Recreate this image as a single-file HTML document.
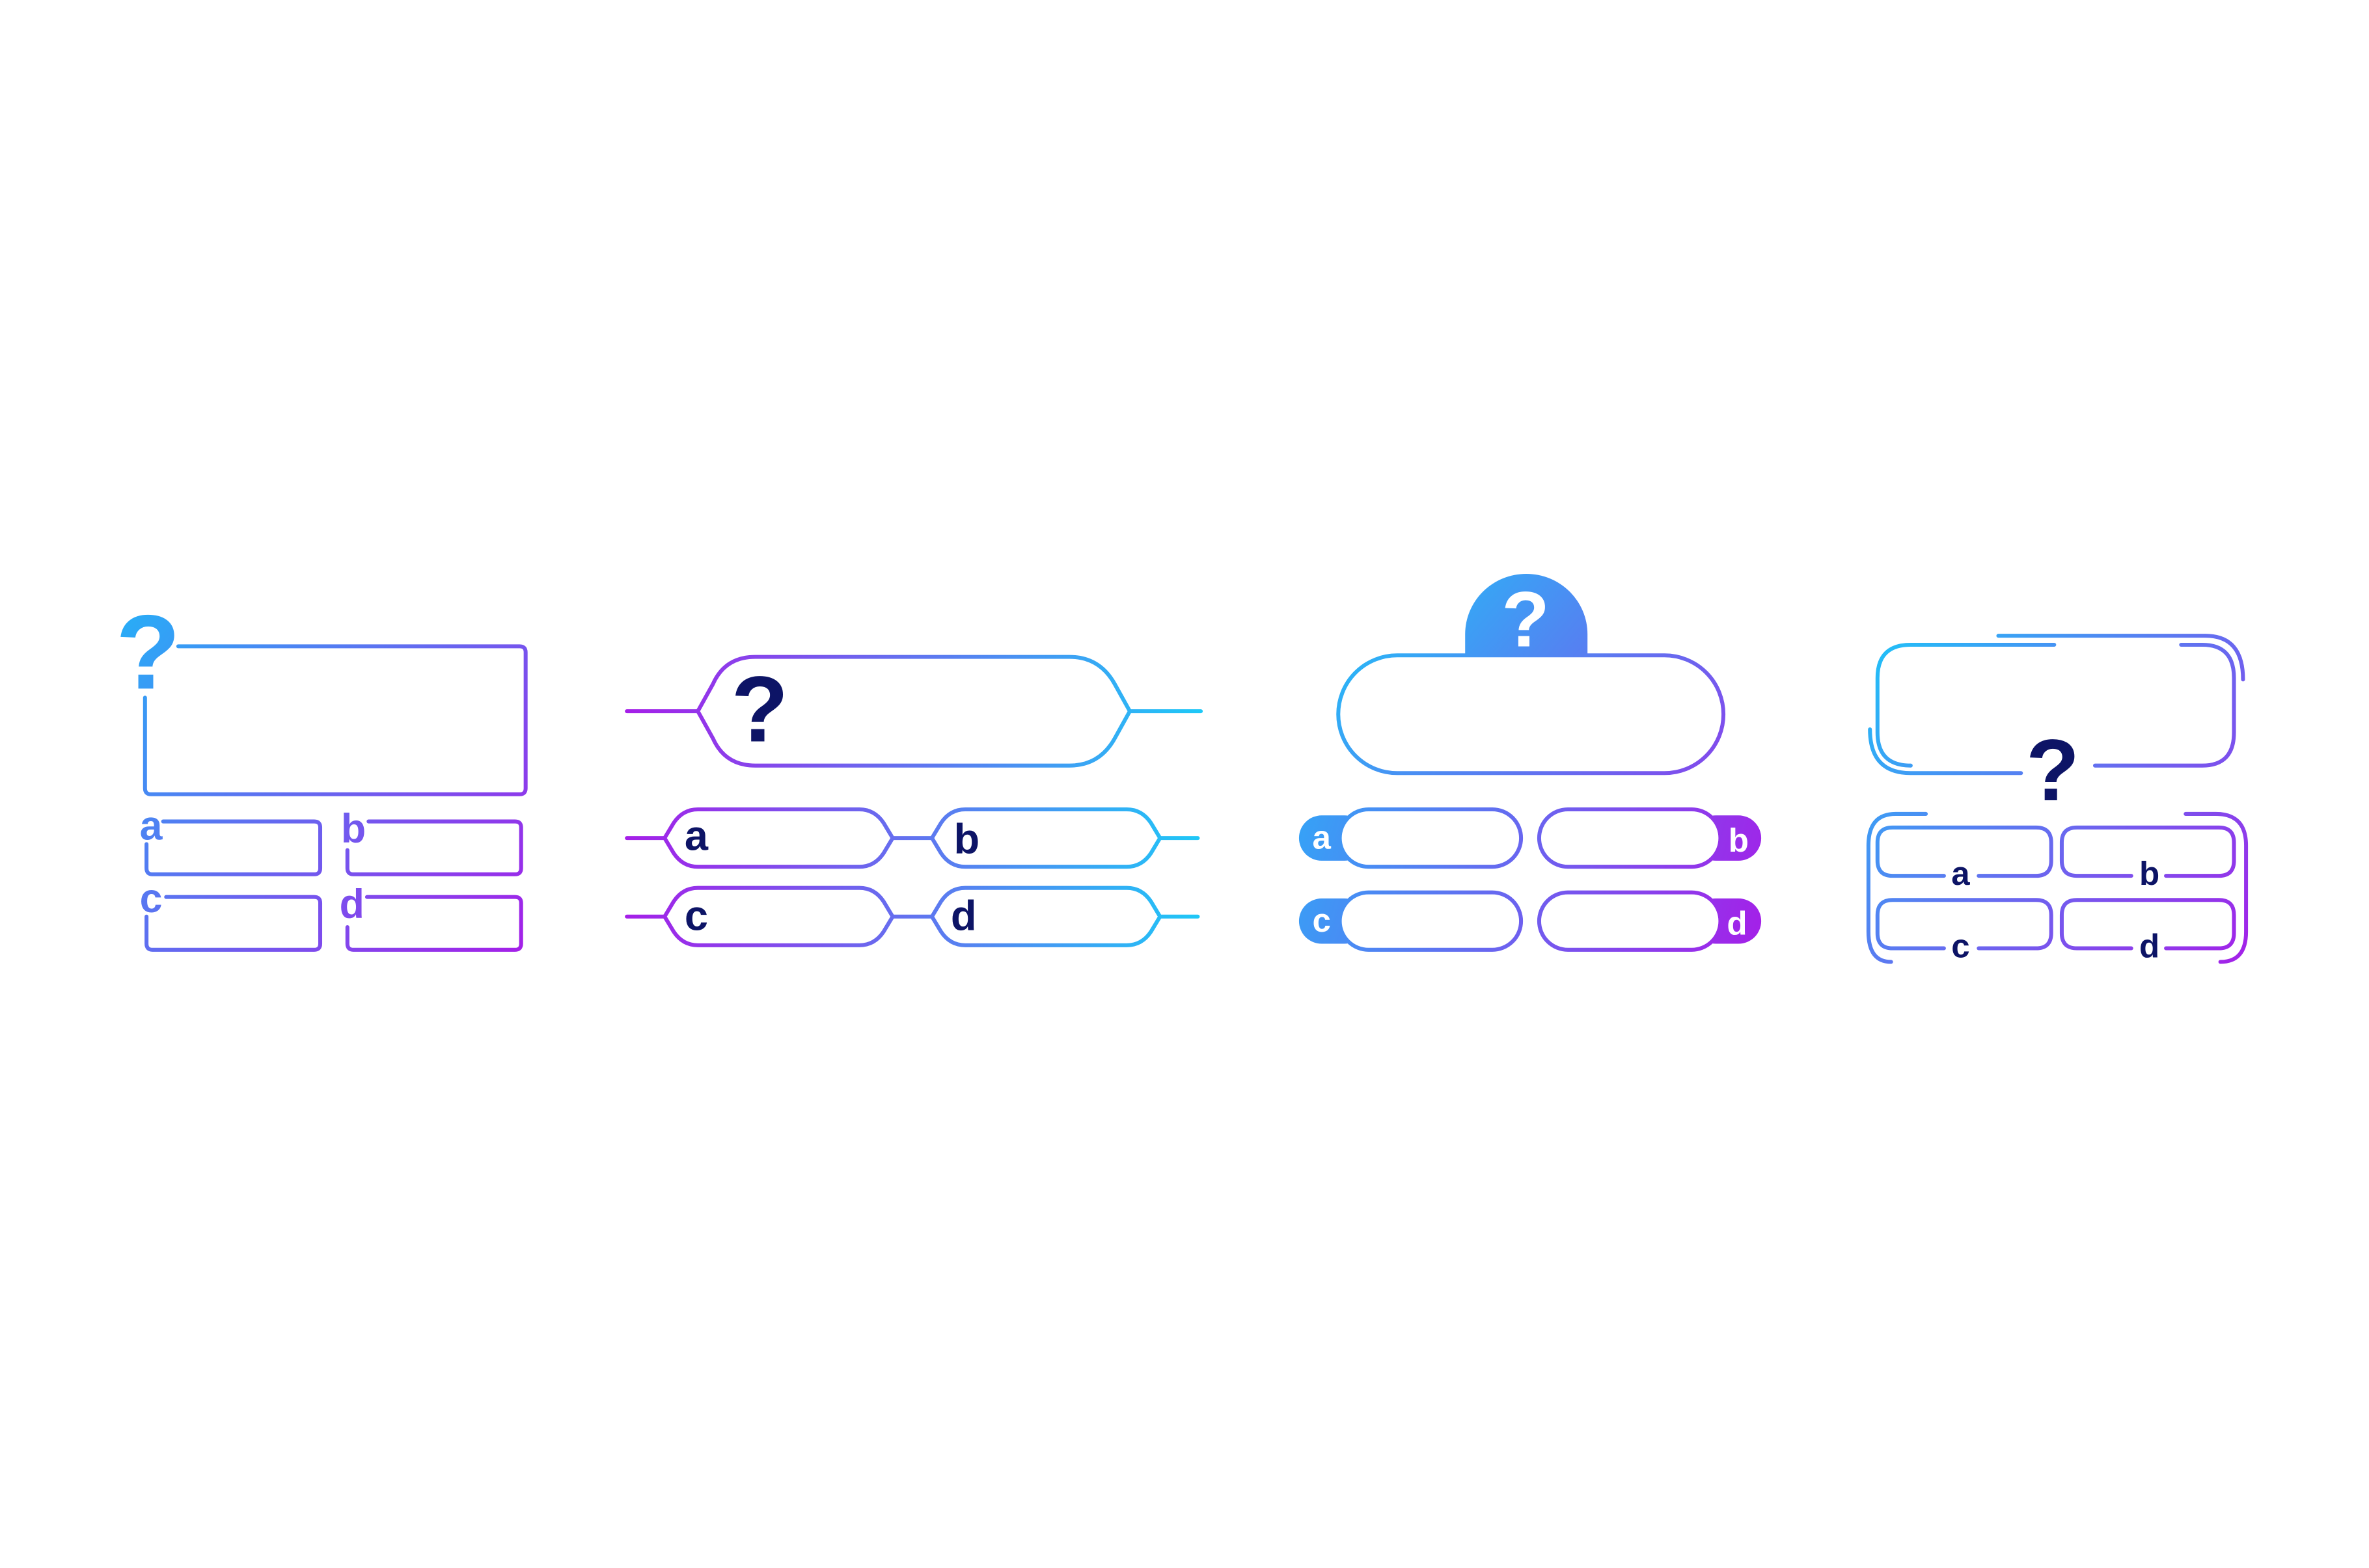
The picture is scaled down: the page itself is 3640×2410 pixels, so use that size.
<!DOCTYPE html>
<html><head><meta charset="utf-8"><style>html,body{margin:0;padding:0;background:#fff}svg{display:block}</style></head>
<body>
<svg width="3640" height="2410" viewBox="0 0 1568.4 1038.4" xmlns="http://www.w3.org/2000/svg">
<defs>
<linearGradient id="g1" gradientUnits="userSpaceOnUse" x1="80" y1="405" x2="348" y2="630"><stop offset="0" stop-color="#27aef7"/><stop offset="1" stop-color="#a51fe8"/></linearGradient>
<linearGradient id="g2" gradientUnits="userSpaceOnUse" x1="415" y1="0" x2="795" y2="0"><stop offset="0" stop-color="#a51fe8"/><stop offset="1" stop-color="#1ec8f7"/></linearGradient>
<linearGradient id="g3" gradientUnits="userSpaceOnUse" x1="880" y1="400" x2="1150" y2="630"><stop offset="0" stop-color="#1ec4f8"/><stop offset="1" stop-color="#a51fe8"/></linearGradient>
<linearGradient id="g3b" gradientUnits="userSpaceOnUse" x1="860" y1="536" x2="1166" y2="629"><stop offset="0" stop-color="#35a3f6"/><stop offset="1" stop-color="#a51fe8"/></linearGradient>
<linearGradient id="g4" gradientUnits="userSpaceOnUse" x1="1237" y1="420" x2="1487" y2="640"><stop offset="0" stop-color="#1ec4f8"/><stop offset="1" stop-color="#a51fe8"/></linearGradient>
</defs>
<g fill="none" stroke-width="2.6" stroke-linecap="round" stroke-linejoin="round">
<g stroke="url(#g1)">
<path d="M118,428 H344 Q348,428 348,432 V522 Q348,526 344,526 H100 Q96,526 96,522 V462"/>
<path d="M108,544 H208 Q212,544 212,548 V575 Q212,579 208,579 H101 Q97,579 97,575 V559"/>
<path d="M244,544 H341 Q345,544 345,548 V575 Q345,579 341,579 H234 Q230,579 230,575 V563"/>
<path d="M110,594 H208 Q212,594 212,598 V625 Q212,629 208,629 H101 Q97,629 97,625 V607"/>
<path d="M243,594 H341 Q345,594 345,598 V625 Q345,629 341,629 H234 Q230,629 230,625 V614"/>
</g>
<g stroke="url(#g2)">
<path d="M500,435 H708 Q728,435 738,453 L748,471 L738,489 Q728,507 708,507 H500 Q480,507 472,489 L462,471 L472,453 Q480,435 500,435Z"/>
<path d="M415,471 H462 M748,471 H795"/>
<path d="M462,536 H569 Q579,536 585,545 L591,555 L585,565 Q579,574 569,574 H462 Q452,574 446,565 L440,555 L446,545 Q452,536 462,536Z"/>
<path d="M639,536 H746 Q756,536 762,545 L768,555 L762,565 Q756,574 746,574 H639 Q629,574 623,565 L617,555 L623,545 Q629,536 639,536Z"/>
<path d="M462,588 H569 Q579,588 585,597 L591,607 L585,617 Q579,626 569,626 H462 Q452,626 446,617 L440,607 L446,597 Q452,588 462,588Z"/>
<path d="M639,588 H746 Q756,588 762,597 L768,607 L762,617 Q756,626 746,626 H639 Q629,626 623,617 L617,607 L623,597 Q629,588 639,588Z"/>
<path d="M415,555 H440 M591,555 H617 M768,555 H793 M415,607 H440 M591,607 H617 M768,607 H793"/>
</g>
<path d="M970,435 V420 A40.5,40 0 0 1 1051,420 V435Z" fill="url(#g3)" stroke="none"/>
<rect x="886" y="434" width="255" height="78" rx="39" stroke="url(#g3)" fill="#fff"/>
<g fill="url(#g3b)" stroke="none">
<rect x="860" y="540" width="45" height="30" rx="15"/>
<rect x="1121" y="540" width="45" height="30" rx="15"/>
<rect x="860" y="595" width="45" height="30" rx="15"/>
<rect x="1121" y="595" width="45" height="30" rx="15"/>
</g>
<g stroke="url(#g3b)" fill="#fff">
<rect x="887" y="536" width="120" height="38" rx="19"/>
<rect x="1019" y="536" width="120" height="38" rx="19"/>
<rect x="887" y="591" width="120" height="38" rx="19"/>
<rect x="1019" y="591" width="120" height="38" rx="19"/>
</g>
<g stroke="url(#g4)">
<path d="M1360,427 H1265 Q1243,427 1243,449 V485 Q1243,507 1265,507"/>
<path d="M1238,483 Q1238,512 1265,512 H1338"/>
<path d="M1387,507 H1458 Q1479,507 1479,485 V449 Q1479,427 1458,427 H1444"/>
<path d="M1323,421 H1460 Q1485,421 1485,450"/>
<path d="M1275,539 H1255 Q1237,539 1237,560 V617 Q1237,637 1252,637"/>
<path d="M1447,539 H1467 Q1487,539 1487,560 V617 Q1487,637 1470,637"/>
<path d="M1287,580 H1253 Q1243,580 1243,570 V558 Q1243,548 1253,548 H1348 Q1358,548 1358,558 V570 Q1358,580 1348,580 H1310"/>
<path d="M1411,580 H1375 Q1365,580 1365,570 V558 Q1365,548 1375,548 H1469 Q1479,548 1479,558 V570 Q1479,580 1469,580 H1434"/>
<path d="M1287,628 H1253 Q1243,628 1243,618 V606 Q1243,596 1253,596 H1348 Q1358,596 1358,606 V618 Q1358,628 1348,628 H1310"/>
<path d="M1411,628 H1375 Q1365,628 1365,618 V606 Q1365,596 1375,596 H1469 Q1479,596 1479,606 V618 Q1479,628 1469,628 H1434"/>
</g>
</g>
<g font-family="Liberation Sans, sans-serif" text-anchor="middle">
<g fill="url(#g1)">
<text x="98" y="456" font-size="70" font-weight="bold">?</text>
<text x="100" y="556" font-size="27" font-weight="bold">a</text>
<text x="234" y="558" font-size="27" font-weight="bold">b</text>
<text x="100" y="604" font-size="27" font-weight="bold">c</text>
<text x="233" y="608" font-size="27" font-weight="bold">d</text>
</g>
<g fill="#0d1466" font-weight="bold">
<text x="503" y="491" font-size="62">?</text>
<text x="461" y="563" font-size="28">a</text>
<text x="640" y="565" font-size="28">b</text>
<text x="461" y="616" font-size="28">c</text>
<text x="638" y="616" font-size="28">d</text>
<text x="1359" y="530" font-size="58">?</text>
<text x="1298" y="586" font-size="22">a</text>
<text x="1423" y="586" font-size="22">b</text>
<text x="1298" y="634" font-size="22">c</text>
<text x="1423" y="634" font-size="22">d</text>
</g>
<g fill="#fff" font-weight="bold">
<text x="1010" y="428" font-size="52">?</text>
<text x="875" y="562" font-size="22">a</text>
<text x="1151" y="564" font-size="22">b</text>
<text x="875" y="617" font-size="22">c</text>
<text x="1150" y="619" font-size="22">d</text>
</g>
</g>
</svg>
</body></html>
